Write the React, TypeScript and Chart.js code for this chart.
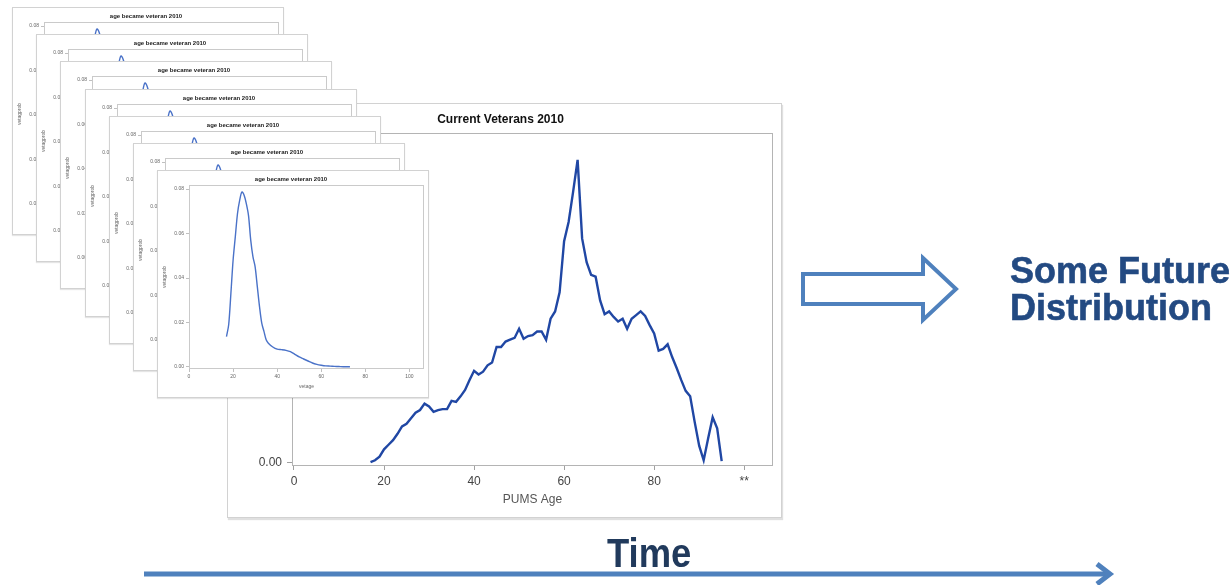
import React, { useEffect, useRef } from 'react';
import { Chart, registerables } from 'chart.js';

Chart.register(...registerables);

// ---------- data ----------
const mainTitle = 'Current Veterans 2010';
const mainXTitle = 'PUMS Age';
const mainAges = [
  17, 18, 19, 20, 21, 22, 23, 24, 25, 26, 27, 28, 29, 30, 31, 32, 33, 34, 35, 36,
  37, 38, 39, 40, 41, 42, 43, 44, 45, 46, 47, 48, 49, 50, 51, 52, 53, 54, 55, 56,
  57, 58, 59, 60, 61, 62, 63, 64, 65, 66, 67, 68, 69, 70, 71, 72, 73, 74, 75, 76,
  77, 78, 79, 80, 81, 82, 83, 84, 85, 86, 87, 88, 89, 90, 91, 92, 93, 94, 95,
];
const mainValues = [
  0.0001, 0.0003, 0.0007, 0.0015, 0.002, 0.0025, 0.0032, 0.004, 0.0043, 0.0049,
  0.0055, 0.0058, 0.0065, 0.0062, 0.0056, 0.0058, 0.0059, 0.0059, 0.0068, 0.0067,
  0.0073, 0.008, 0.0091, 0.0101, 0.0097, 0.01, 0.0107, 0.011, 0.0127, 0.0127,
  0.0133, 0.0135, 0.0137, 0.0147, 0.0136, 0.0139, 0.014, 0.0144, 0.0144, 0.0135,
  0.0158, 0.0166, 0.0187, 0.0243, 0.0264, 0.0297, 0.0332, 0.0246, 0.022, 0.0206,
  0.0204, 0.0178, 0.0163, 0.0166, 0.016, 0.0155, 0.0158, 0.0147, 0.0158, 0.0162,
  0.0166, 0.0161, 0.0151, 0.0142, 0.0123, 0.0125, 0.013, 0.0116, 0.0104, 0.0091,
  0.0079, 0.0073, 0.0045, 0.0019, 0.0003, 0.0027, 0.005, 0.0038, 0.0002,
];
const mainXTicks = [0, 20, 40, 60, 80, 100];
const mainXTickLabels = ['0', '20', '40', '60', '80', '**'];
const mainYTicks = [0, 0.01, 0.02, 0.03];

const insetTitle = 'age became veteran 2010';
const insetXTitle = 'vetage';
const insetYTitle = 'vetagprob';
const insetAges = [
  17, 18, 19, 20, 21, 22, 23, 24, 25, 26, 27, 28, 29, 30, 31, 32, 33, 34, 35, 36,
  38, 40, 42, 44, 46, 48, 50, 52, 54, 56, 58, 60, 62, 64, 66, 68, 70, 73,
];
const insetValues = [
  0.0137, 0.019, 0.033, 0.048, 0.0585, 0.069, 0.075, 0.0787, 0.0772, 0.0734,
  0.068, 0.057, 0.0496, 0.045, 0.036, 0.027, 0.0197, 0.016, 0.0122, 0.0107,
  0.009, 0.008, 0.0078, 0.0075, 0.0069, 0.0057, 0.0045, 0.0036, 0.0027, 0.0018,
  0.0012, 0.0008, 0.0005, 0.0004, 0.0003, 0.0002, 0.0001, 0.0001,
];
const insetXTicks = [0, 20, 40, 60, 80, 100];
const insetYTicks = [0, 0.02, 0.04, 0.06, 0.08];

const futureLines = ['Some Future', 'Distribution'];
const timeLabel = 'Time';

// ---------- helpers ----------
const FONT = "'Liberation Sans', Arial, Helvetica, sans-serif";

const framePlugin = {
  id: 'frame',
  beforeDatasetsDraw(chart: any, _args: any, opts: any) {
    const { ctx, chartArea } = chart;
    const { left, top, right, bottom } = chartArea;
    ctx.save();
    ctx.strokeStyle = opts.color || '#aaa';
    ctx.lineWidth = 1;
    ctx.strokeRect(Math.round(left) + 0.5, Math.round(top) + 0.5, Math.round(right - left) - 1, Math.round(bottom - top) - 1);
    ctx.restore();
  },
};

function mainConfig(): any {
  return {
    type: 'line',
    data: {
      datasets: [
        {
          data: mainAges.map((a, i) => ({ x: a, y: mainValues[i] })),
          borderColor: '#2047a4',
          borderWidth: 2.4,
          pointRadius: 0,
          tension: 0,
          fill: false,
        },
      ],
    },
    options: {
      animation: false,
      responsive: false,
      maintainAspectRatio: false,
      layout: { padding: { left: 0, right: 8, top: 0, bottom: 0 } },
      plugins: {
        legend: { display: false },
        tooltip: { enabled: false },
        title: {
          display: true,
          text: mainTitle,
          color: '#111',
          font: { family: FONT, size: 12, weight: 'bold' },
          padding: { top: 8, bottom: 7 },
        },
        frame: { color: '#b4b4b4' },
      },
      scales: {
        x: {
          type: 'linear',
          min: -0.44,
          max: 106.4,
          afterBuildTicks: (s: any) => {
            s.ticks = mainXTicks.map((v) => ({ value: v }));
          },
          afterFit: (s: any) => {
            s.height = 51;
          },
          ticks: {
            callback: (v: any) => {
              const i = mainXTicks.indexOf(Number(v));
              return i >= 0 ? mainXTickLabels[i] : '';
            },
            color: '#444',
            font: { family: FONT, size: 12 },
            padding: 4,
            maxRotation: 0,
            autoSkip: false,
          },
          grid: { display: true, drawOnChartArea: false, drawTicks: true, tickLength: 4, color: '#a0a0a0' },
          border: { display: false },
          title: {
            display: true,
            text: mainXTitle,
            color: '#555',
            font: { family: FONT, size: 12 },
            padding: { top: 0, bottom: 10 },
          },
        },
        y: {
          type: 'linear',
          min: -0.00033,
          max: 0.0361,
          afterBuildTicks: (s: any) => {
            s.ticks = mainYTicks.map((v) => ({ value: v }));
          },
          afterFit: (s: any) => {
            s.width = 64;
          },
          ticks: {
            callback: (v: any) => Number(v).toFixed(2),
            color: '#444',
            font: { family: FONT, size: 12 },
            padding: 5,
            autoSkip: false,
          },
          grid: { display: true, drawOnChartArea: false, drawTicks: true, tickLength: 5, color: '#a0a0a0' },
          border: { display: false },
        },
      },
    },
    plugins: [framePlugin],
  };
}

function insetConfig(): any {
  return {
    type: 'line',
    data: {
      datasets: [
        {
          data: insetAges.map((a, i) => ({ x: a, y: insetValues[i] })),
          borderColor: '#4a72c8',
          borderWidth: 1.4,
          pointRadius: 0,
          tension: 0.3,
          fill: false,
        },
      ],
    },
    options: {
      animation: false,
      responsive: false,
      maintainAspectRatio: false,
      layout: { padding: { left: 0, right: 4, top: 0, bottom: 0 } },
      plugins: {
        legend: { display: false },
        tooltip: { enabled: false },
        title: {
          display: true,
          text: insetTitle,
          color: '#222',
          font: { family: FONT, size: 6, weight: 'bold' },
          padding: { top: 4.4, bottom: 2.4 },
        },
        frame: { color: '#cacaca' },
      },
      scales: {
        x: {
          type: 'linear',
          min: 0,
          max: 106.6,
          afterBuildTicks: (s: any) => {
            s.ticks = insetXTicks.map((v) => ({ value: v }));
          },
          afterFit: (s: any) => {
            s.height = 28;
          },
          ticks: {
            color: '#666',
            font: { family: FONT, size: 5 },
            padding: 2,
            maxRotation: 0,
            autoSkip: false,
          },
          grid: { display: true, drawOnChartArea: false, drawTicks: true, tickLength: 3, color: '#c0c0c0' },
          border: { display: false },
          title: {
            display: true,
            text: insetXTitle,
            color: '#666',
            font: { family: FONT, size: 5 },
            padding: { top: 0, bottom: 7 },
          },
        },
        y: {
          type: 'linear',
          min: -0.0009,
          max: 0.0818,
          afterBuildTicks: (s: any) => {
            s.ticks = insetYTicks.map((v) => ({ value: v }));
          },
          afterFit: (s: any) => {
            s.width = 31;
          },
          ticks: {
            callback: (v: any) => Number(v).toFixed(2),
            color: '#666',
            font: { family: FONT, size: 5 },
            padding: 2,
            autoSkip: false,
          },
          grid: { display: true, drawOnChartArea: false, drawTicks: true, tickLength: 3, color: '#c0c0c0' },
          border: { display: false },
          title: {
            display: true,
            text: insetYTitle,
            color: '#666',
            font: { family: FONT, size: 5 },
            padding: { top: 4, bottom: 0 },
          },
        },
      },
    },
    plugins: [framePlugin],
  };
}

function ChartCanvas({ make, width, height }: { make: () => any; width: number; height: number }) {
  const ref = useRef<HTMLCanvasElement>(null);
  useEffect(() => {
    const chart = new Chart(ref.current as HTMLCanvasElement, make());
    return () => chart.destroy();
  }, []);
  return <canvas ref={ref} width={width} height={height} style={{ display: 'block', width, height }} />;
}

function Card({ left, top, width, height, children, shadow }: any) {
  return (
    <div
      style={{
        position: 'absolute',
        left,
        top,
        width,
        height,
        boxSizing: 'border-box',
        border: '1px solid #d2d2d2',
        background: '#fff',
        boxShadow: shadow,
      }}
    >
      {children}
    </div>
  );
}

export default function App() {
  const stack = [0, 1, 2, 3, 4, 5, 6];
  return (
    <div
      style={{
        position: 'absolute',
        left: 0,
        top: 0,
        width: 1230,
        height: 585,
        background: '#fff',
        overflow: 'hidden',
        fontFamily: FONT,
      }}
    >
      <Card left={227} top={103} width={555} height={415} shadow="1px 2px 1px rgba(0,0,0,0.12)">
        <ChartCanvas make={mainConfig} width={553} height={413} />
      </Card>

      {stack.map((i) => (
        <Card
          key={i}
          left={Math.round(12 + i * 24.17)}
          top={Math.round(7 + i * 27.17)}
          width={272}
          height={228}
          shadow="0 1px 1px rgba(0,0,0,0.10)"
        >
          <ChartCanvas make={insetConfig} width={270} height={226} />
        </Card>
      ))}

      <svg width={1230} height={585} style={{ position: 'absolute', left: 0, top: 0, pointerEvents: 'none' }}>
        <polygon
          points="803,274 923,274 923,258 956,289 923,320 923,304 803,304"
          fill="#fff"
          stroke="#4F81BD"
          strokeWidth={4}
          strokeLinejoin="miter"
        />
        <line x1={144} y1={574} x2={1106} y2={574} stroke="#4F81BD" strokeWidth={5} />
        <polyline
          points="1097,564 1110,574 1097,584"
          fill="none"
          stroke="#4F81BD"
          strokeWidth={5}
          strokeLinejoin="miter"
        />
      </svg>

      <div
        style={{
          position: 'absolute',
          left: 1010,
          top: 252,
          fontSize: 36,
          lineHeight: '37px',
          fontWeight: 'bold',
          color: '#234a82',
          whiteSpace: 'nowrap',
          WebkitTextStroke: '0.6px #234a82',
        }}
      >
        {futureLines.map((t) => (
          <div key={t}>{t}</div>
        ))}
      </div>

      <div
        style={{
          position: 'absolute',
          left: 607,
          top: 533,
          fontSize: 40,
          lineHeight: '40px',
          fontWeight: 'bold',
          color: '#213a5c',
          whiteSpace: 'nowrap',
          transform: 'scaleX(0.91)',
          transformOrigin: 'left top',
        }}
      >
        {timeLabel}
      </div>
    </div>
  );
}
